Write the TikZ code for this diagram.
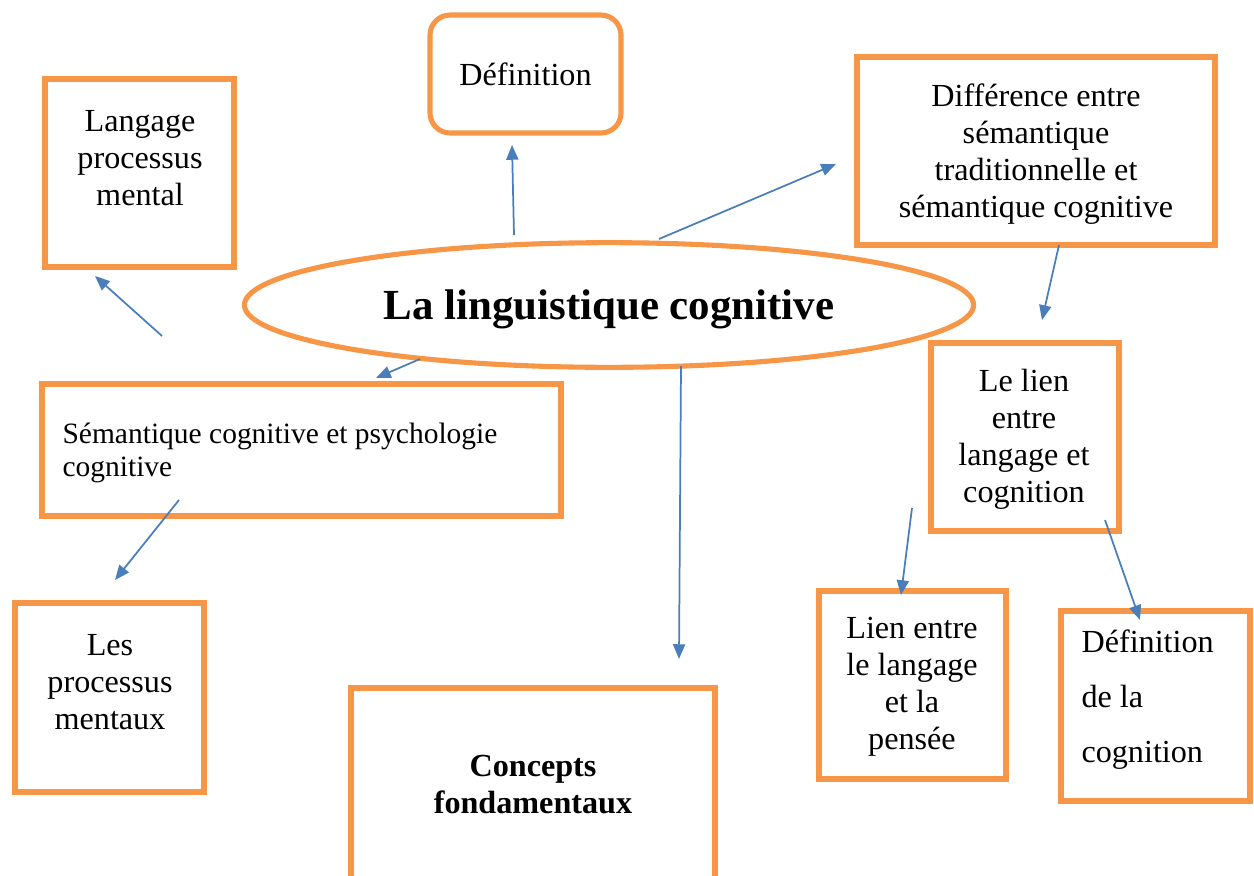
\documentclass[tikz,border=0pt]{standalone}
\usepackage{fontspec}
\setmainfont{Liberation Serif}
\usetikzlibrary{shapes.geometric,arrows.meta}

\definecolor{boxorange}{HTML}{F79646}
\definecolor{linkblue}{HTML}{4A7EBB}

\tikzset{
	box/.style={draw=boxorange, line width=1.9pt, inner sep=0pt, align=center,
		font=\fontsize{12}{13.8}\selectfont},
	txt/.style={inner sep=0pt, align=center, font=\fontsize{12}{13.8}\selectfont},
	link/.style={-{Triangle[length=5.5pt,width=4.5pt]}, color=linkblue, line width=0.65pt}
}

\begin{document}
\begin{tikzpicture}[x=0.373pt,y=-0.373pt]
			\useasboundingbox (0,0) rectangle (1254,876);
			% central ellipse
			\node[ellipse, draw=boxorange, line width=1.9pt, inner sep=0pt, text depth=0pt,
				minimum width=272pt, minimum height=46.5pt,
				font=\fontsize{16}{19}\selectfont\bfseries] (c_0) at (609,305) {La linguistique cognitive};
			% boxes
			\node[box, minimum width=189*0.373pt, minimum height=188*0.373pt] (b_lang) at (139.5,173) {};
			\node[txt] (t_lang) at (140,158) {Langage\\processus\\mental};
			\node[box, rounded corners=7.5pt, minimum width=191*0.373pt, minimum height=118*0.373pt] (b_def) at (525.5,74) {Définition};
			\node[box, minimum width=358*0.373pt, minimum height=188*0.373pt] (b_diff) at (1036,151) {};
			\node[txt] (t_diff) at (1036,154) {Différence entre\\sémantique\\traditionnelle et\\sémantique cognitive};
			\node[box, minimum width=188*0.373pt, minimum height=188*0.373pt] (b_lien) at (1025,437) {};
			\node[txt] (t_lien) at (1024,439) {Le lien\\entre\\langage et\\cognition};
			\node[box, minimum width=519*0.373pt, minimum height=132*0.373pt] (b_sem) at (301.5,450) {};
			\node[txt, anchor=west, align=left, font=\fontsize{11}{12.3}\selectfont] (t_sem) at (62,453) {Sémantique cognitive et psychologie\\cognitive};
			\node[box, minimum width=189*0.373pt, minimum height=189*0.373pt] (b_proc) at (109.5,697.5) {};
			\node[txt] (t_proc) at (110,682) {Les\\processus\\mentaux};
			\node[box, minimum width=364*0.373pt, minimum height=194*0.373pt,
				font=\fontsize{12}{13.8}\selectfont\bfseries] (b_conc) at (533,785) {Concepts\\fondamentaux};
			\node[box, minimum width=187*0.373pt, minimum height=188*0.373pt] (b_pens) at (912.5,685) {};
			\node[txt] (t_pens) at (912,687) {Lien entre\\le langage\\et la\\pensée};
			\node[box, minimum width=189*0.373pt, minimum height=190*0.373pt] (b_cogn) at (1155.5,706) {};
			\node[txt, anchor=west, align=left, font=\fontsize{12}{20.5}\selectfont] (t_cogn) at (1081,700) {Définition\\de la\\cognition};
			% arrow ends
			\coordinate (s_1) at (162,336);  \coordinate (e_1) at (95,276);
			\coordinate (s_2) at (514,235);  \coordinate (e_2) at (512,145);
			\coordinate (s_3) at (659,239);  \coordinate (e_3) at (836,164);
			\coordinate (s_4) at (1059,245); \coordinate (e_4) at (1042,320);
			\coordinate (s_5) at (420,359);  \coordinate (e_5) at (376,378);
			\coordinate (s_6) at (179,500);  \coordinate (e_6) at (115,580);
			\coordinate (s_7) at (681,366);  \coordinate (e_7) at (679,659);
			\coordinate (s_8) at (912,508);  \coordinate (e_8) at (901,595);
			\coordinate (s_9) at (1105,520); \coordinate (e_9) at (1140,620);
			\path[link]
			(s_1) edge (e_1)
			(s_2) edge (e_2)
			(s_3) edge (e_3)
			(s_4) edge (e_4)
			(s_5) edge (e_5)
			(s_6) edge (e_6)
			(s_7) edge (e_7)
			(s_8) edge (e_8)
			(s_9) edge (e_9);
		\end{tikzpicture}
\end{document}
